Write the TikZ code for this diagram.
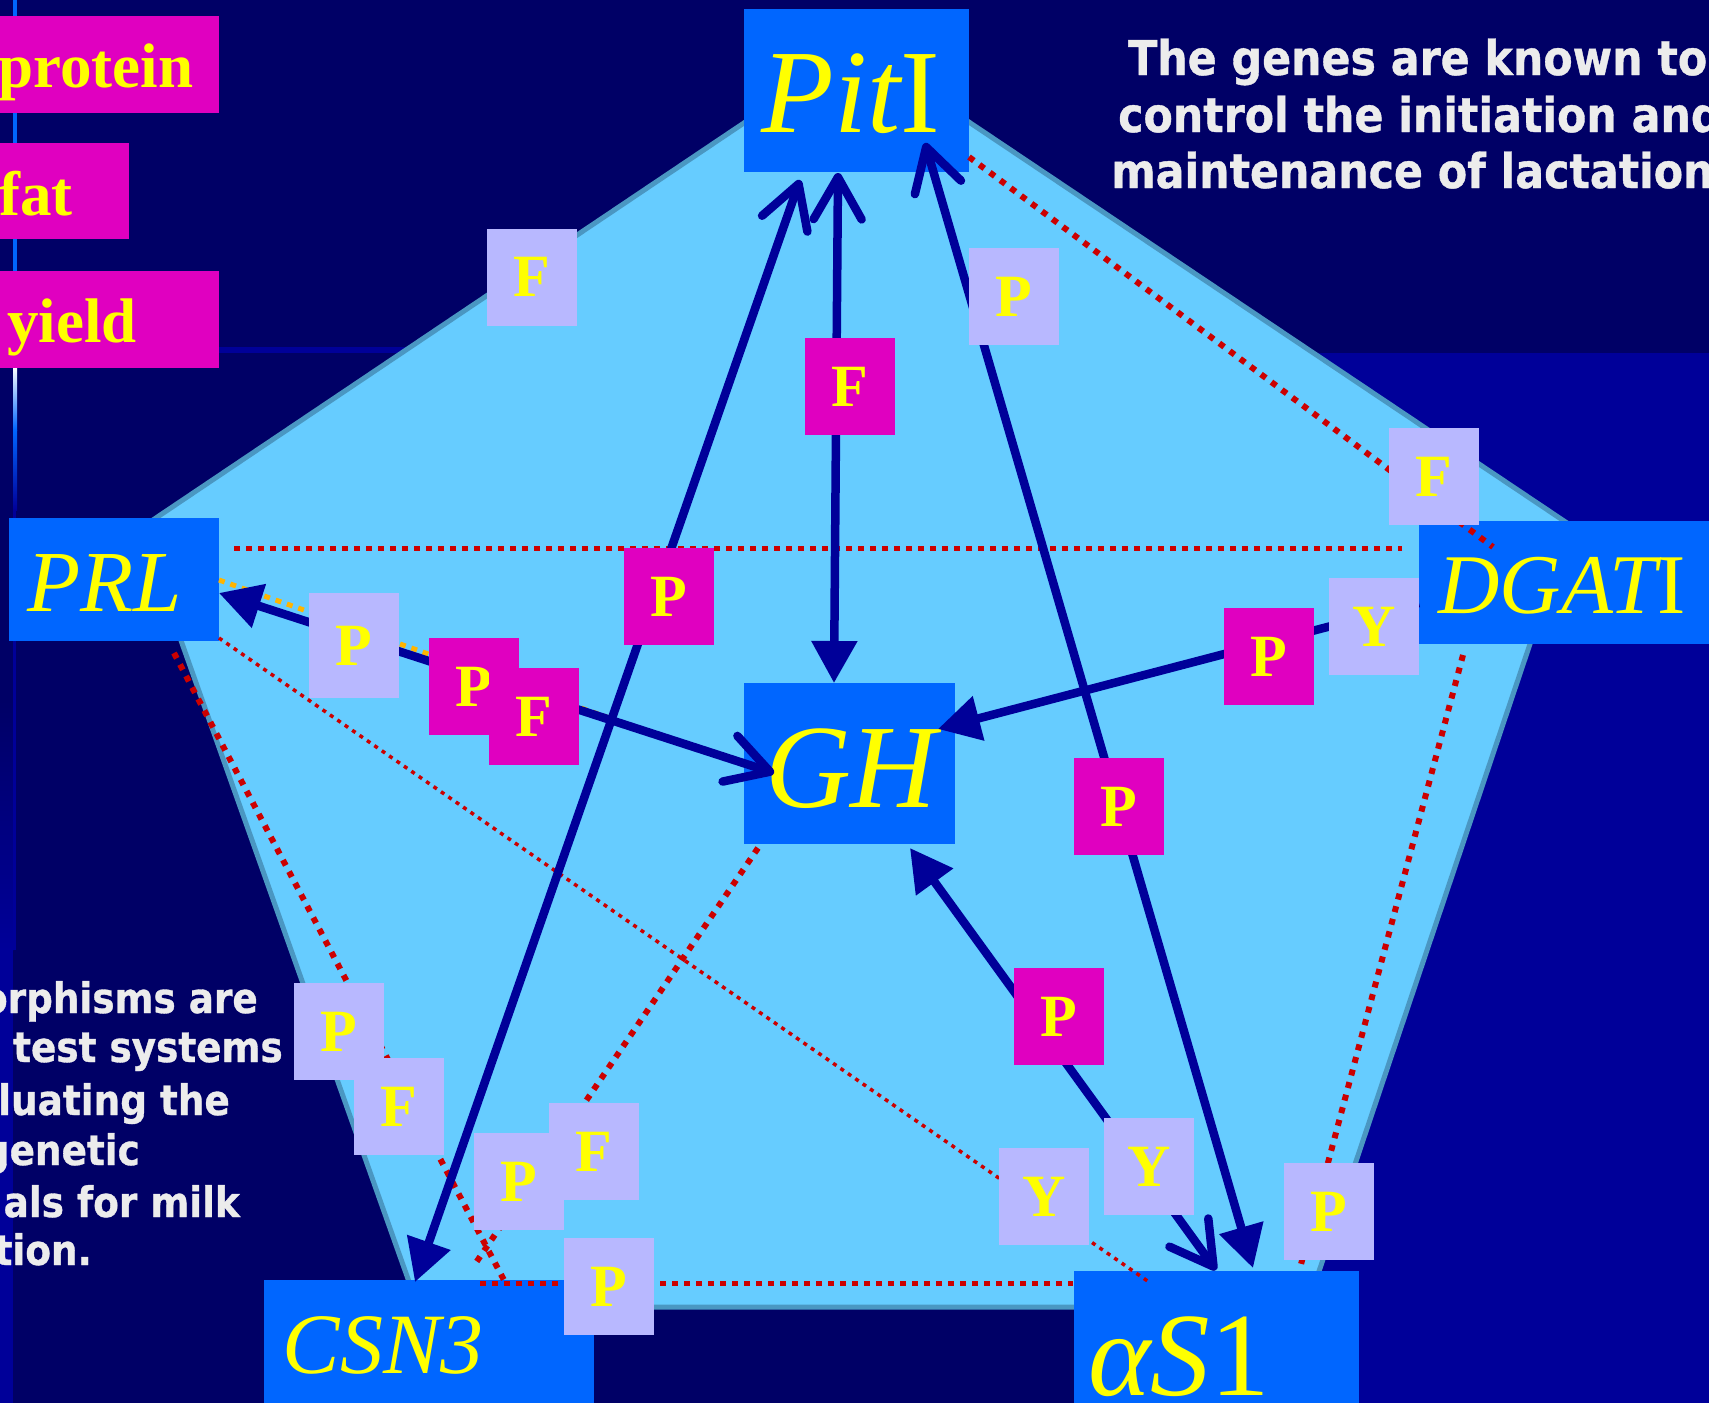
\documentclass[tikz,border=0pt]{standalone}
\usepackage{fontspec}
\setmainfont{Liberation Serif}
\newfontfamily\slidesans[FakeStretch=0.89,BoldFeatures={FakeBold=0.8}]{DejaVu Sans}
\usetikzlibrary{arrows.meta}
\definecolor{bgnavy}{HTML}{000066}
\definecolor{navytwo}{HTML}{000099}
\definecolor{pentfill}{HTML}{66CCFF}
\definecolor{pentline}{HTML}{4A97C2}
\definecolor{geneblue}{HTML}{0066FF}
\definecolor{magbox}{HTML}{E000C0}
\definecolor{lavbox}{HTML}{B8B8FF}
\definecolor{arrblue}{HTML}{000099}
\definecolor{dotred}{HTML}{CC0000}
\definecolor{dotorange}{HTML}{FFB400}
\definecolor{txtwhite}{HTML}{ECECEC}
\definecolor{goldtxt}{HTML}{FFFF00}
\newcommand\fsz[1]{\fontsize{#1pt}{#1pt}\selectfont}
\tikzset{
  tri/.tip={Triangle[length=42pt,width=44pt]},
  barb/.tip={Straight Barb[length=42pt,width=48pt,round]},
}
\begin{document}
\begin{tikzpicture}[x=1pt,y=-1pt,
  genebox/.style 2 args={fill=geneblue,draw=none,inner sep=0pt,minimum width=#1,minimum height=#2},
  genetxt/.style={text=goldtxt,inner sep=0pt,anchor=base},
  tagbox/.style={inner sep=0pt,minimum width=90pt,minimum height=97pt,text=goldtxt,font=\fsz{60}\bfseries},
  lav/.style={tagbox,fill=lavbox},
  mag/.style={tagbox,fill=magbox},
  legbox/.style={fill=magbox,inner sep=0pt,anchor=north west},
  legtxt/.style={text=goldtxt,font=\fsz{63}\bfseries,inner sep=0pt,anchor=base west},
  conn/.style={draw=arrblue,line width=8.5pt},
  reddot/.style={draw=dotred,line width=6pt,dash pattern=on 6pt off 7pt},
  redflat/.style={draw=dotred,line width=5pt,dash pattern=on 6pt off 6pt},
  redthin/.style={draw=dotred,line width=3.5pt,dash pattern=on 4pt off 5pt},
  orangedot/.style={draw=dotorange,line width=5pt,dash pattern=on 6pt off 6pt},
  slidetxt/.style={text=txtwhite,inner sep=0pt,font=\slidesans\bfseries}
]
\path[use as bounding box] (0,0) rectangle (1709,1403);
\clip (0,0) rectangle (1709,1403);
% slide background
\fill[bgnavy] (0,0) rectangle (1709,1403);
\fill[navytwo] (1200,353) rectangle (1709,1403);
\fill[navytwo] (219,347) rectangle (1200,353);
\shade[top color=bgnavy,bottom color=navytwo] (0,700) rectangle (13,950);
\fill[navytwo] (0,950) rectangle (13,1403);
\fill[geneblue] (13,0) rectangle (17,367);
\shade[top color=white,bottom color=geneblue] (13,367) rectangle (17,430);
\shade[top color=geneblue,bottom color=navytwo] (13,430) rectangle (17,510);
\fill[navytwo] (13,510) rectangle (16,950);
% pentagon
\filldraw[fill=pentfill,draw=pentline,line width=5pt,line join=miter]
  (857,47) -- (1570,525) -- (1307,1307) -- (418,1307) -- (141,528) -- cycle;
% legend boxes
\node[legbox,minimum width=219pt,minimum height=97pt] (legP) at (0,16) {};
\node[legbox,minimum width=129pt,minimum height=96pt] (legF) at (0,143) {};
\node[legbox,minimum width=219pt,minimum height=97pt] (legY) at (0,271) {};
\node[legtxt] (legPt) at (-2,87) {protein};
\node[legtxt] (legFt) at (-1,215) {fat};
\node[legtxt] (legYt) at (7,342) {yield};
% gene boxes
\node[genebox={225pt}{163pt}] (pit) at (856.5,90.5) {};
\node[genebox={210pt}{123pt}] (prl) at (114,579.5) {};
\node[genebox={301pt}{123pt}] (dgat) at (1569.5,582.5) {};
\node[genebox={211pt}{161pt}] (gh) at (849.5,763.5) {};
\node[genebox={330pt}{130pt}] (csn) at (429,1345) {};
\node[genebox={285pt}{139pt}] (as) at (1216.5,1340.5) {};
\node[genetxt,font=\fsz{119}] (pitT) at (851,132) {\itshape Pit\upshape I};
\node[genetxt,font=\fsz{87}] (prlT) at (105,611) {\itshape PRL};
\node[genetxt,font=\fsz{85}] (dgatT) at (1562,613) {\itshape DGAT\upshape I};
\node[genetxt,font=\fsz{119}] (ghT) at (851,807) {\itshape GH};
\node[genetxt,font=\fsz{86}] (csnT) at (383,1373) {\itshape CSN3};
\node[genetxt,font=\fsz{119}] (asT) at (1179,1395) {\itshape αS\upshape 1};
% connector end points
\coordinate (prlR1) at (234,548);
\coordinate (dgR1) at (1402,548);
\coordinate (pitR2) at (969,157);
\coordinate (dgR2) at (1493,547);
\coordinate (dgR3) at (1463,655);
\coordinate (asR3) at (1300,1268);
\coordinate (csnR4) at (480,1283);
\coordinate (asR4) at (1073,1283);
\coordinate (prlR5) at (174,653);
\coordinate (csnR5) at (505,1282);
\coordinate (ghR6) at (758,848);
\coordinate (csnR6) at (473,1267);
\coordinate (prlR7) at (219,638);
\coordinate (asR7) at (1149,1282);
\coordinate (prlO) at (219,580);
\coordinate (ghO) at (680,743);
\coordinate (pitA) at (800,180);
\coordinate (csnA) at (415,1282);
\coordinate (pitB) at (838,173);
\coordinate (ghB) at (834,683);
\coordinate (pitC) at (925,143);
\coordinate (asC) at (1253,1268);
\coordinate (prlD) at (219,593);
\coordinate (ghD) at (774,773);
\coordinate (dgE) at (1419,603);
\coordinate (ghE) at (938,729);
\coordinate (ghF) at (910,848);
\coordinate (asF) at (1216,1270);
% dotted links
\draw[redflat] (prlR1) -- (dgR1);
\draw[reddot] (pitR2) -- (dgR2);
\draw[reddot] (dgR3) -- (asR3);
\draw[redflat] (csnR4) -- (asR4);
\draw[reddot] (prlR5) -- (csnR5);
\draw[reddot] (ghR6) -- (csnR6);
\draw[redthin] (prlR7) -- (asR7);
\draw[orangedot] (prlO) -- (ghO);
% arrows
\draw[conn,barb-tri] (pitA) -- (csnA);
\draw[conn,barb-tri] (pitB) -- (ghB);
\draw[conn,barb-tri] (pitC) -- (asC);
\draw[conn,tri-barb] (prlD) -- (ghD);
\draw[conn,-tri] (dgE) -- (ghE);
\draw[conn,tri-barb] (ghF) -- (asF);
% tags
\node[lav] (t1) at (532,277) {F};
\node[lav] (t2) at (1013.5,296.5) {P};
\node[mag] (t3) at (849.5,386.5) {F};
\node[lav] (t4) at (1434,476.5) {F};
\node[mag] (t5) at (669,596.5) {P};
\node[lav,minimum height=105pt] (t6) at (354,645.5) {P};
\node[mag] (t7) at (474,686.5) {P};
\node[mag] (t8) at (534,716.5) {F};
\node[lav] (t9) at (1374,626.5) {Y};
\node[mag] (t10) at (1269,656.5) {P};
\node[mag] (t11) at (1119,806.5) {P};
\node[mag] (t12) at (1059,1016.5) {P};
\node[lav] (t13) at (1149,1166.5) {Y};
\node[lav] (t14) at (1044,1196.5) {Y};
\node[lav] (t15) at (1329,1211.5) {P};
\node[lav] (t16) at (339,1031.5) {P};
\node[lav] (t17) at (399,1106.5) {F};
\node[lav] (t18) at (519,1181.5) {P};
\node[lav] (t19) at (594,1151.5) {F};
\node[lav] (t20) at (609,1286.5) {P};
% slide texts
\node[slidetxt,font=\slidesans\bfseries\fsz{48},anchor=base west] (s1) at (1128,75) {The genes are known to};
\node[slidetxt,font=\slidesans\bfseries\fsz{48},anchor=base west] (s2) at (1118,132) {control the initiation and};
\node[slidetxt,font=\slidesans\bfseries\fsz{48},anchor=base west] (s3) at (1111,188) {maintenance of lactation};
\node[slidetxt,font=\slidesans\bfseries\fsz{42},anchor=base east] (b1) at (258,1013) {orphisms are};
\node[slidetxt,font=\slidesans\bfseries\fsz{42},anchor=base east] (b2) at (283,1062) {test systems};
\node[slidetxt,font=\slidesans\bfseries\fsz{42},anchor=base east] (b3) at (230,1115) {luating the};
\node[slidetxt,font=\slidesans\bfseries\fsz{42},anchor=base east] (b4) at (140,1165) {genetic};
\node[slidetxt,font=\slidesans\bfseries\fsz{42},anchor=base east] (b5) at (240,1217) {als for milk};
\node[slidetxt,font=\slidesans\bfseries\fsz{42},anchor=base east] (b6) at (92,1265) {tion.};
\end{tikzpicture}
\end{document}
